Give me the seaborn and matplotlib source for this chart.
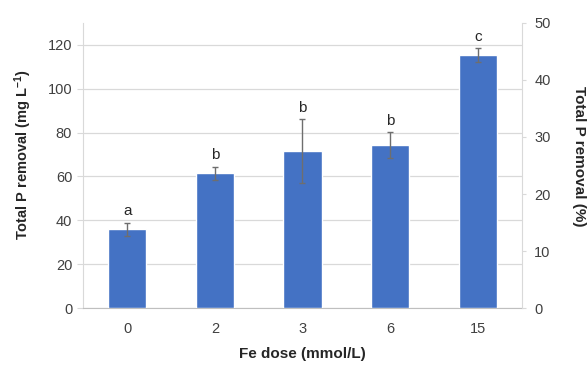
#Total P removal by Fe dose
import numpy as np
import pandas as pd
import matplotlib
matplotlib.use("Agg")
import matplotlib.pyplot as plt
import seaborn as sns

#data
doses = ["0", "2", "3", "6", "15"]
removal = [36.0, 61.5, 71.5, 74.2, 115.3]
removal_err = [3.0, 3.0, 14.6, 5.9, 3.2]
letters = ["a", "b", "b", "b", "c"]

sns.set_style("white")
plt.rcParams['font.family'] = ['Liberation Sans', 'DejaVu Sans']
plt.rcParams['mathtext.fontset'] = 'custom'
plt.rcParams['mathtext.rm'] = 'Liberation Sans:bold'
plt.rcParams['mathtext.bf'] = 'Liberation Sans:bold'
plt.rcParams['mathtext.default'] = 'bf'

df = pd.DataFrame({'dose': doses, 'removal': removal})

fig = plt.figure(figsize=(5.88, 3.67), dpi=100)
ax = fig.add_axes([0.1417, 0.160, 0.7455, 0.778])

sns.barplot(x='dose', y='removal', data=df, order=doses, color='#4472C4',
            saturation=1, width=0.44, errorbar=None, ax=ax, zorder=3)
ax.errorbar(np.arange(len(doses)), removal, yerr=removal_err, fmt='none',
            ecolor='#6e6e6e', elinewidth=1.0, capsize=2.5, capthick=1.0, zorder=4)

for i, (v, e, lab) in enumerate(zip(removal, removal_err, letters)):
    ax.annotate(lab, (i, v + e), xytext=(0, 3), textcoords='offset points',
                ha='center', va='bottom', fontsize=11, color='#262626')

ax.set_ylim(0, 130)
ax.set_yticks(np.arange(0, 121, 20))
ax.set_xlim(-0.5, len(doses) - 0.5)
ax.grid(True, axis='y', color='#d9d9d9', linewidth=0.9, zorder=0)
ax.set_axisbelow(True)
for s in ['top', 'right']:
    ax.spines[s].set_visible(False)
ax.spines['left'].set_color('#d9d9d9')
ax.spines['bottom'].set_color('#bfbfbf')
ax.tick_params(axis='y', length=4, color='#d9d9d9', labelsize=10.5, labelcolor='#404040', pad=4)
ax.tick_params(axis='x', length=0, labelsize=10.5, labelcolor='#404040', pad=10)
ax.set_xlabel('Fe dose (mmol/L)', fontsize=11, fontweight='bold', labelpad=8)
ax.set_ylabel('Total P removal (mg L$^{-1}$)', fontsize=10.5, fontweight='bold')
ax.yaxis.set_label_coords(-0.112, 0.54)

#secondary axis in percent
ax2 = ax.twinx()
ax2.set_ylim(0, 50)
ax2.set_yticks(np.arange(0, 51, 10))
for s in ['top', 'left', 'bottom']:
    ax2.spines[s].set_visible(False)
ax2.spines['right'].set_color('#d9d9d9')
ax2.tick_params(axis='y', length=3, color='#d9d9d9', labelsize=10.5, labelcolor='#404040', pad=6)
ax2.set_ylabel('Total P removal (%)', fontsize=11, fontweight='bold', rotation=-90, va='bottom')
ax2.yaxis.set_label_coords(1.115, 0.533)

plt.savefig('out.png', dpi=100)
plt.close()
